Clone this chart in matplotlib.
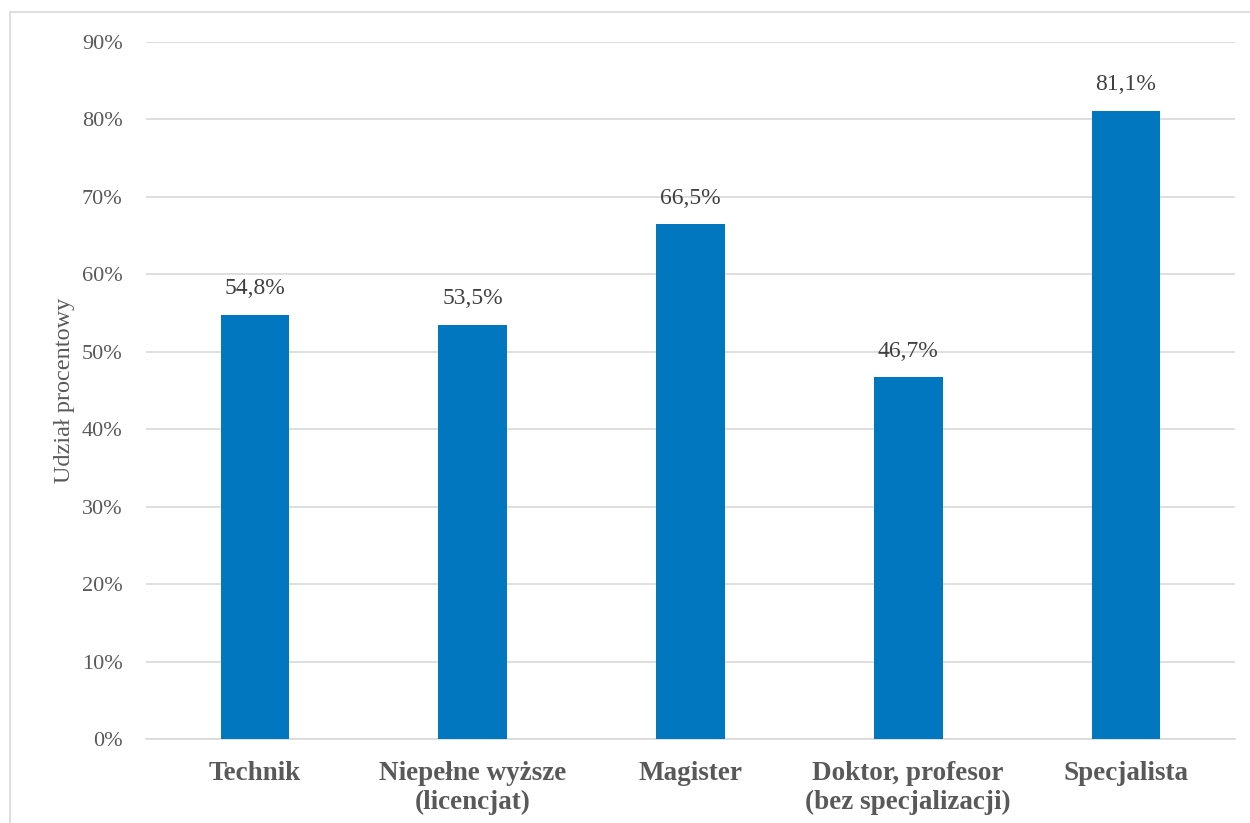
import matplotlib
matplotlib.use("Agg")
import matplotlib.pyplot as plt
from matplotlib.patches import Rectangle
from matplotlib.ticker import FuncFormatter, MultipleLocator

categories = ["Technik", "Niepełne wyższe\n(licencjat)", "Magister",
              "Doktor, profesor\n(bez specjalizacji)", "Specjalista"]
values = [54.8, 53.5, 66.5, 46.7, 81.1]
labels = ["54,8%", "53,5%", "66,5%", "46,7%", "81,1%"]

plt.rcParams['font.family'] = ['Liberation Serif', 'DejaVu Serif']

W, H = 1250, 823
fig = plt.figure(figsize=(W/100, H/100), dpi=100)
# outer border
fig.patches.append(Rectangle((10/W, -0.1), 1.2, 1 - 12/H + 0.1, transform=fig.transFigure,
                             fill=False, edgecolor='#D9D9D9', linewidth=1.2))

ax = fig.add_axes([146.2/W, 1 - 739/H, (1234.8 - 146.2)/W, (739 - 42)/H])
x = list(range(len(categories)))
ax.bar(x, values, width=0.315, color='#0177BF', zorder=3)
for xi, v, lab in zip(x, values, labels):
    ax.text(xi, v + 2.0, lab, ha='center', va='bottom', fontsize=17, color='#404040')

ax.set_xlim(-0.5, len(categories) - 0.5)
ax.set_ylim(0, 90)
ax.yaxis.set_major_locator(MultipleLocator(10))
ax.yaxis.set_major_formatter(FuncFormatter(lambda v, p: f"{int(round(v))}%"))
ax.grid(axis='y', color='#D9D9D9', linewidth=1.2, zorder=0)
for s in ['top', 'right', 'left']:
    ax.spines[s].set_visible(False)
ax.spines['bottom'].set_color('#D9D9D9')
ax.spines['bottom'].set_linewidth(1.2)
ax.tick_params(axis='y', length=0, labelsize=16, labelcolor='#595959', pad=17)
ax.tick_params(axis='x', length=0, labelsize=19.5, labelcolor='#595959', pad=16)
ax.set_xticks(x)
ax.set_xticklabels(categories, fontweight='bold', linespacing=1.2)
ax.set_ylabel("Udział procentowy", fontsize=17.5, color='#595959', labelpad=5)

fig.savefig("out.png", dpi=100)
